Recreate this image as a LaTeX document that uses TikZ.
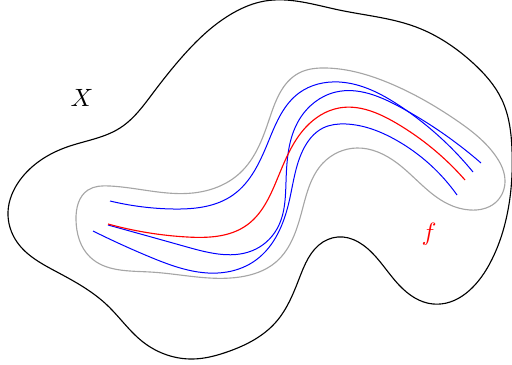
\documentclass[tikz,border=0pt]{standalone}
\usetikzlibrary{hobby}
\begin{document}
\begin{tikzpicture}[x=0.4pt,y=-0.4pt,
  outline/.style={black,line width=0.45pt},
  tube/.style={black!35,line width=0.45pt},
  mapcurve/.style={red,line width=0.45pt},
  pert/.style={blue,line width=0.4pt}]
\useasboundingbox (0,0) rectangle (512,365);
% space X
\draw[outline,use Hobby shortcut,closed=true]
 (265,1) .. (339,10) .. (416,27) .. (473,63) .. (502,100) .. (512,150) .. (508,210)
 .. (489,265) .. (433,304) .. (399,285) .. (363,245) .. (343,237) .. (323,242) .. (299,279)
 .. (276,322) .. (227,352) .. (193,359) .. (143,342) .. (107,305) .. (57,272)
 .. (17,242) .. (8,212) .. (20,180) .. (67,147) .. (120,128) .. (153,93) .. (182,57)
 .. (233,13);
% tube
\draw[tube,use Hobby shortcut,closed=true]
 (110,186) .. (193,193) .. (240,173) .. (269,120) .. (299,73) .. (326,68) .. (389,83)
 .. (456,120) .. (495,155) .. (505,182) .. (495,203) .. (470,210) .. (448,204) .. (397,163)
 .. (357,148) .. (323,163) .. (303,207) .. (276,262) .. (240,277) .. (150,272)
 .. (90,257) .. (76,220) .. (88,190);
% perturbations
\draw[pert,use Hobby shortcut]
 (110,201) .. (173,209) .. (233,195) .. (269,140) .. (299,93) .. (339,82) .. (400,106) .. (473,172);
\draw[pert,use Hobby shortcut]
 (108,225) .. (187,247) .. (256,249) .. (279,225) .. (286,182) .. (299,120) .. (336,92)
 .. (400,107) .. (481,163);
\draw[pert,use Hobby shortcut]
 (93,231) .. (150,257) .. (227,272) .. (256,260) .. (289,202) .. (303,150) .. (323,128)
 .. (346,124) .. (396,140) .. (457,195);
% map f
\draw[mapcurve,use Hobby shortcut]
 (108,224) .. (187,237) .. (247,225) .. (276,182) .. (306,127) .. (339,108) .. (396,123) .. (465,180);
\node (X) at (82,98) {$X$};
\node[red] (f) at (429,234) {$f$};
\end{tikzpicture}
\end{document}
